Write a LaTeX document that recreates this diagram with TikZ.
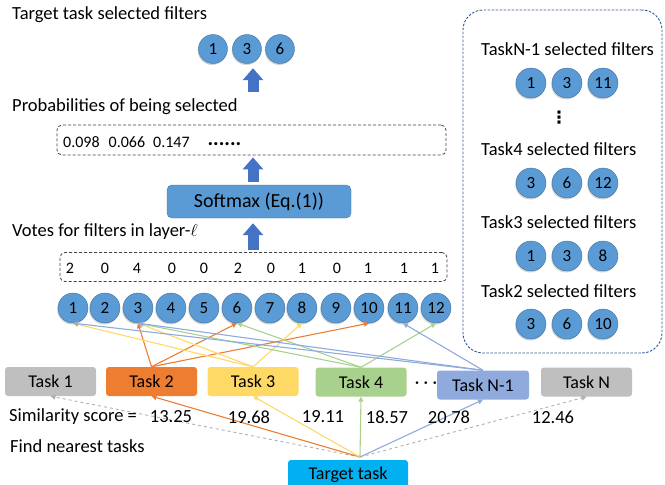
\documentclass[tikz,border=0pt]{standalone}
\usepackage{fontspec}
\setmainfont{Carlito}
\newfontfamily\symfont{DejaVu Sans}
\usetikzlibrary{arrows.meta,shadows}

\definecolor{filtblue}{HTML}{5B9BD5}
\definecolor{filtedge}{HTML}{41719C}
\definecolor{arrowblue}{HTML}{4472C4}
\definecolor{taskgray}{HTML}{BFBFBF}
\definecolor{linegray}{HTML}{B0B0B0}
\definecolor{taskorange}{HTML}{ED7D31}
\definecolor{taskyellow}{HTML}{FFD966}
\definecolor{taskgreen}{HTML}{A9D18E}
\definecolor{taskblue}{HTML}{8FAADC}
\definecolor{targetcyan}{HTML}{00B0F0}
\definecolor{panelblue}{HTML}{2F5597}

\tikzset{
  filt/.style={circle, draw=filtedge, fill=filtblue, minimum size=30pt, inner sep=0pt,
    font=\fontsize{17}{20}\selectfont,
    drop shadow={shadow xshift=-0.8pt, shadow yshift=-1.5pt, opacity=0.35}},
  task/.style={rectangle, rounded corners=3pt, minimum width=91pt, minimum height=29pt,
    inner sep=0pt, font=\fontsize{18}{21}\selectfont},
  txt/.style={inner sep=0pt, font=\fontsize{18.5}{21}\selectfont},
  num/.style={inner sep=0pt, font=\fontsize{16}{19}\selectfont},
  dashbox/.style={draw=black!75, dash pattern=on 3pt off 2pt, rounded corners=5pt, line width=0.8pt},
  bigarrow/.style={arrowblue, line width=11pt, -{Triangle[width=20pt,length=12pt]}},
  conn/.style={line width=1.1pt, -{Triangle[width=5pt,length=5pt]}}
}

\begin{document}
\begin{tikzpicture}[x=1pt,y=-1pt]
\useasboundingbox (0,0) rectangle (665,485);

% selected filters of the target task
\node[txt, anchor=west] (toptitle) at (12,15) {Target task selected filters};
\node[filt, minimum size=29pt] (t1) at (213,49) {1};
\node[filt, minimum size=29pt] (t3) at (247,49) {3};
\node[filt, minimum size=29pt] (t6) at (280,49) {6};

\node[txt, anchor=west] (probtitle) at (12,107) {Probabilities of being selected};
\node[dashbox, minimum width=389pt, minimum height=30pt] (probbox) at (251.5,140) {};
\node[num, anchor=west] (probs) at (63,142) {0.098\hspace{9pt}0.066\hspace{8pt}0.147\hspace{18pt}{\fontsize{21}{21}\selectfont\bfseries\raisebox{1.5pt}{......}}};

\node[rectangle, rounded corners=5pt, draw=filtedge, fill=filtblue, minimum width=184pt, minimum height=33pt,
  font=\fontsize{20}{23}\selectfont] (sm) at (259,201.5) {Softmax (Eq.(1))};

\node[txt, anchor=west] (votetitle) at (12,232) {Votes for filters in layer-$\ell$};
\node[dashbox, minimum width=387pt, minimum height=29pt] (votes) at (253.5,267) {};

% filters of layer l
\node[filt] (f1) at (73,308) {1};
\node[filt] (f2) at (105,308) {2};
\node[filt] (f3) at (138,308) {3};
\node[filt] (f4) at (171,308) {4};
\node[filt] (f5) at (204,308) {5};
\node[filt] (f6) at (237,308) {6};
\node[filt] (f7) at (270,308) {7};
\node[filt] (f8) at (302,308) {8};
\node[filt] (f9) at (336,308) {9};
\node[filt] (f10) at (369,308) {10};
\node[filt] (f11) at (403,308) {11};
\node[filt] (f12) at (436,308) {12};

\node[num] (v1) at (70,268) {2};
\node[num] (v2) at (105,268) {0};
\node[num] (v3) at (137,268) {4};
\node[num] (v4) at (172,268) {0};
\node[num] (v5) at (204,268) {0};
\node[num] (v6) at (238,268) {2};
\node[num] (v7) at (271,268) {0};
\node[num] (v8) at (302,268) {1};
\node[num] (v9) at (337,268) {0};
\node[num] (v10) at (368,268) {1};
\node[num] (v11) at (404,268) {1};
\node[num] (v12) at (435,268) {1};

% tasks
\node[task, fill=taskgray] (task1) at (50.5,381.5) {Task 1};
\node[task, fill=taskorange] (task2) at (151.5,381.5) {Task 2};
\node[task, fill=taskyellow] (task3) at (253,381.5) {Task 3};
\node[task, fill=taskgreen] (task4) at (361,382) {Task 4};
\node[txt, font=\fontsize{18}{21}\selectfont\boldmath] (tdots) at (426,383) {$\cdots$};
\node[task, fill=taskblue, minimum width=92pt] (taskn1) at (483,385) {Task N-1};
\node[task, fill=taskgray] (taskn) at (586.5,382) {Task N};

\node[task, fill=targetcyan, minimum width=120pt, minimum height=30pt] (target) at (348,475) {Target task};
\coordinate (hub) at (360,457);

% find nearest tasks
\draw[conn, linegray, dashed, line width=0.9pt] (hub) -- (task1.south);
\draw[conn, taskorange] (hub) -- (task2.south);
\draw[conn, taskyellow] (hub) -- (task3.south);
\draw[conn, taskgreen] (hub) -- (task4.south);
\draw[conn, taskblue] (hub) -- (taskn1.south);
\draw[conn, linegray, dashed, line width=0.9pt] (hub) -- (taskn.south);

% votes of the nearest tasks
\draw[conn, taskorange] (task2.north) -- (f3.south);
\draw[conn, taskorange] (task2.north) -- (f6.south);
\draw[conn, taskorange] (task2.north) -- (f10.south);
\draw[conn, taskyellow] (task3.north) -- (f1.south);
\draw[conn, taskyellow] (task3.north) -- (f3.south);
\draw[conn, taskyellow] (task3.north) -- (f8.south);
\draw[conn, taskgreen] (task4.north) -- (f3.south);
\draw[conn, taskgreen] (task4.north) -- (f6.south);
\draw[conn, taskgreen] (task4.north) -- (f12.south);
\draw[conn, taskblue] (taskn1.north) -- (f1.south);
\draw[conn, taskblue] (taskn1.north) -- (f3.south);
\draw[conn, taskblue] (taskn1.north) -- (f11.south);

\node[txt, anchor=west] (simtitle) at (9,417) {Similarity score =};
\node[txt] (s2) at (171,417) {13.25};
\node[txt] (s3) at (249,417) {19.68};
\node[txt] (s4) at (323,417) {19.11};
\node[txt] (s5) at (387,417) {18.57};
\node[txt] (s6) at (449,417) {20.78};
\node[txt] (s7) at (553,417) {12.46};
\node[txt, anchor=west] (findtitle) at (10,446) {Find nearest tasks};

% block arrows
\coordinate (a1) at (253,92);
\coordinate (ax) at (253,0);
\draw[bigarrow, shorten >=4.5pt] (a1) -- (a1 |- t3.south);
\draw[bigarrow, shorten <=3pt, shorten >=2pt] (ax |- sm.north) -- (ax |- probbox.south);
\draw[bigarrow, shorten <=2.5pt, shorten >=5pt] (ax |- votes.north) -- (ax |- sm.south);

% filters selected by the other tasks
\node[draw=panelblue, dash pattern=on 2.5pt off 1.5pt, line width=0.9pt, rounded corners=20pt,
  minimum width=199pt, minimum height=343pt] (panel) at (562.5,181.5) {};
\node[txt, anchor=west] (pn1) at (481,49) {TaskN-1 selected filters};
\node[filt] (pn1a) at (531,83) {1};
\node[filt] (pn1b) at (567,83) {3};
\node[filt] (pn1c) at (603,83) {11};
\node[txt, font=\fontsize{17}{19}\symfont\bfseries] (pdots) at (559,118) {⋮};
\node[txt, anchor=west] (p4) at (481,149) {Task4 selected filters};
\node[filt] (p4a) at (531,183) {3};
\node[filt] (p4b) at (567,183) {6};
\node[filt] (p4c) at (603,183) {12};
\node[txt, anchor=west] (p3) at (481,222) {Task3 selected filters};
\node[filt] (p3a) at (531,256) {1};
\node[filt] (p3b) at (567,256) {3};
\node[filt] (p3c) at (603,256) {8};
\node[txt, anchor=west] (p2) at (481,291) {Task2 selected filters};
\node[filt] (p2a) at (531,324) {3};
\node[filt] (p2b) at (567,324) {6};
\node[filt] (p2c) at (603,324) {10};

\end{tikzpicture}
\end{document}
